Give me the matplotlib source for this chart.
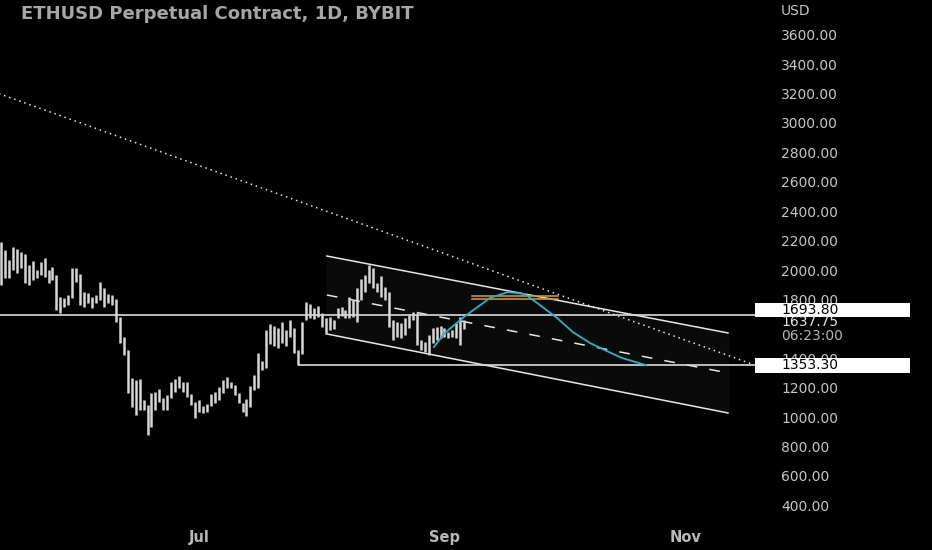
import numpy as np
import pandas as pd
import matplotlib
matplotlib.use('Agg')
import matplotlib.pyplot as plt
import matplotlib.dates as mdates
import matplotlib.transforms as mtransforms
from matplotlib.patches import Rectangle

# daily bars (high / low), starting 2022-05-12
start_date = '2022-05-12'
highs = [2190, 2136, 2068, 2156, 2143, 2122, 2109, 2034, 2061, 2000,
         2054, 2082, 2000, 2020, 1966, 1816, 1810, 1830, 2014, 2014,
         1973, 1850, 1844, 1816, 1830, 1918, 1878, 1837, 1830, 1803,
         1680, 1544, 1456, 1266, 1252, 1259, 1116, 1082, 1164, 1170,
         1191, 1130, 1150, 1238, 1259, 1279, 1238, 1238, 1157, 1102,
         1116, 1075, 1089, 1157, 1170, 1204, 1252, 1272, 1238, 1218,
         1164, 1096, 1123, 1211, 1286, 1436, 1381, 1592, 1633, 1619,
         1606, 1646, 1592, 1660, 1606, 1456, 1646, 1782, 1769, 1742,
         1755, 1708, 1673, 1680, 1660, 1742, 1748, 1728, 1816, 1796,
         1878, 1939, 1966, 2034, 2014, 1912, 1959, 1884, 1850, 1660,
         1646, 1640, 1673, 1694, 1714, 1708, 1524, 1510, 1558, 1606,
         1612, 1619, 1606, 1578, 1592, 1640, 1680, 1660]
lows = [1898, 1946, 1946, 2000, 1980, 2014, 1912, 1898, 1932, 1946,
        1966, 1952, 1912, 1932, 1728, 1708, 1748, 1762, 1810, 1918,
        1762, 1748, 1776, 1742, 1776, 1796, 1748, 1776, 1762, 1646,
        1504, 1422, 1164, 1068, 1014, 1048, 1048, 878, 932, 1048,
        1102, 1048, 1048, 1130, 1170, 1198, 1170, 1136, 1082, 994,
        1034, 1028, 1034, 1075, 1096, 1116, 1164, 1198, 1198, 1150,
        1096, 1034, 1007, 1068, 1184, 1198, 1320, 1334, 1497, 1483,
        1470, 1504, 1483, 1544, 1436, 1354, 1429, 1660, 1673, 1667,
        1680, 1612, 1565, 1592, 1599, 1673, 1687, 1673, 1673, 1680,
        1646, 1796, 1850, 1912, 1878, 1850, 1816, 1796, 1612, 1524,
        1544, 1538, 1558, 1606, 1660, 1490, 1456, 1442, 1422, 1504,
        1524, 1538, 1544, 1538, 1544, 1538, 1490, 1600]

last_price = 1637.75
countdown = '06:23:00'
levels = [1693.80, 1353.30]
level_start = ['2022-05-01 00:00', '2022-07-26 00:00']

# drawings
chan_x = ['2022-08-02 07:00', '2022-11-11 14:00']
chan_upper = [2095, 1572]
chan_mid = [1830, 1300]
chan_lower = [1565, 1028]

trend_x = ['2022-05-11 00:00', '2022-11-17 12:00']
trend_y = [3204, 1362]

zone_x = ['2022-09-07 22:00', '2022-09-29 17:00']
zone_y = [1820, 1800]

path_x = ['2022-08-29 07:00', '2022-09-01 02:00', '2022-09-06 05:00', '2022-09-12 12:00',
          '2022-09-17 00:00', '2022-09-21 07:00', '2022-09-25 02:00', '2022-09-29 10:00',
          '2022-10-03 10:00', '2022-10-07 17:00', '2022-10-12 00:00', '2022-10-15 19:00',
          '2022-10-21 22:00']
path_y = [1476, 1572, 1687, 1810, 1850, 1837, 1762, 1674, 1578, 1504, 1449, 1402, 1353]

price_ticks = [400, 600, 800, 1000, 1200, 1400, 1800, 2000, 2200, 2400,
               2600, 2800, 3000, 3200, 3400, 3600]
month_ticks = ['2022-07-01', '2022-09-01', '2022-11-01']
month_labels = ['Jul', 'Sep', 'Nov']


def dnum(s):
    if isinstance(s, str):
        return mdates.date2num(pd.Timestamp(s).to_pydatetime())
    return np.array([mdates.date2num(pd.Timestamp(v).to_pydatetime()) for v in s])


fig = plt.figure(figsize=(9.32, 5.5), dpi=100, facecolor='black')
ax = fig.add_axes([0, 30 / 550, 755 / 932, 520 / 550])
ax.set_facecolor('black')
for sp in ax.spines.values():
    sp.set_visible(False)

bar_x = mdates.date2num(pd.date_range(start_date, periods=len(highs), freq='D').to_pydatetime())
ax.vlines(bar_x, lows, highs, color='#d6d6d6', lw=1.8, zorder=3)

# channel
cx = dnum(chan_x)
ax.fill_between(cx, chan_lower, chan_upper, color='#0a0a0a', zorder=0)
ax.plot(cx, chan_upper, color='#e6e6e6', lw=1.1, zorder=2)
ax.plot(cx, chan_lower, color='#e6e6e6', lw=1.1, zorder=2)
ax.plot(cx, chan_mid, color='#e6e6e6', lw=1.1, ls=(0, (7, 8)), zorder=2)

# long dotted trend line
ax.plot(dnum(trend_x), trend_y, color='#e6e6e6', lw=1.1, ls=(0, (1, 2.5)), zorder=2)

x_left = dnum('2022-05-11 18:00')
x_right = dnum('2022-11-18 10:00')

# horizontal levels
for lv, st in zip(levels, level_start):
    ax.hlines(lv, max(dnum(st), x_left), x_right, color='#dcdcdc', lw=1.2, zorder=2)

# orange zone
zx = dnum(zone_x)
for zy in zone_y:
    ax.plot(zx, [zy, zy], color='#c8962e', lw=1.2, zorder=2)

# projected path
ax.plot(dnum(path_x), path_y, color='#2ab3c6', lw=1.3, zorder=4)

ax.set_xlim(x_left, x_right)
ax.set_ylim(300, 3836)

ax.yaxis.tick_right()
ax.set_yticks(price_ticks)
ax.set_yticklabels(['%.2f' % t for t in price_ticks])
ax.tick_params(axis='y', length=0, pad=19, labelsize=10, labelcolor='#c6c6c6')

ax.set_xticks(dnum(month_ticks))
ax.set_xticklabels(month_labels, fontweight='bold')
ax.tick_params(axis='x', length=0, pad=7, labelsize=10.5, labelcolor='#b8b8b8')

# price boxes on the axis
trans = mtransforms.blended_transform_factory(ax.transAxes, ax.transData)
box_centres = [1728, 1351]
for lv, yc in zip(levels, box_centres):
    ax.add_patch(Rectangle((1.0, yc - 50), 0.205, 100, transform=trans,
                           facecolor='white', edgecolor='none', clip_on=False, zorder=5))
    ax.text(781 / 755, yc, '%.2f' % lv, transform=trans, ha='left', va='center',
            fontsize=10, color='black', clip_on=False, zorder=6)

ax.text(781 / 755, 1643, '%.2f' % last_price, transform=trans, ha='left', va='center',
        fontsize=10, color='#e4e4e4', clip_on=False, zorder=6)
ax.text(781 / 755, 1552, countdown, transform=trans, ha='left', va='center',
        fontsize=10, color='#b4b4b4', clip_on=False, zorder=6)

fig.text(781 / 932, 1 - 11 / 550, 'USD', ha='left', va='center', fontsize=10, color='#c6c6c6')
fig.text(21 / 932, 1 - 14 / 550, 'ETHUSD Perpetual Contract, 1D, BYBIT', ha='left', va='center',
         fontsize=13, fontweight='bold', color='#a6a6a6')

fig.savefig('out.png', dpi=100, facecolor='black')
